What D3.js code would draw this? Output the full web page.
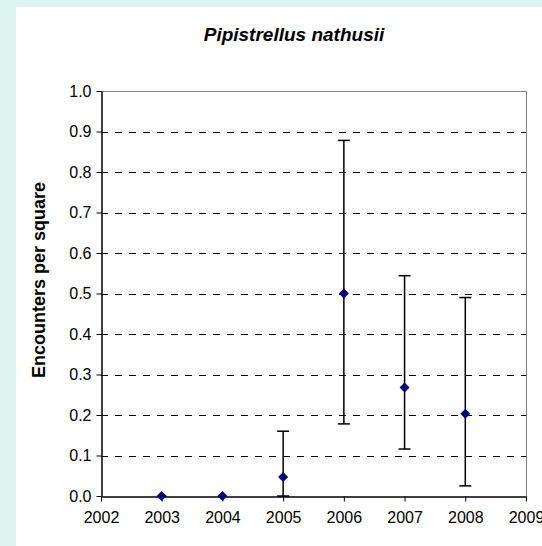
<!DOCTYPE html>
<html>
<head>
<meta charset="utf-8">
<script src="https://cdn.jsdelivr.net/npm/d3@7"></script>
<style>
  html, body { margin: 0; padding: 0; background: #dcf5f1; }
  svg { display: block; }
  text { font-family: "Liberation Sans", Arial, sans-serif; }
</style>
</head>
<body>
<svg id="chart" width="542" height="546"></svg>
<script>
const years = [2003, 2004, 2005, 2006, 2007, 2008];
const means = [0, 0, 0.047, 0.500, 0.268, 0.203];
const upper = [0, 0, 0.160, 0.878, 0.544, 0.490];
const lower = [0, 0, 0, 0.178, 0.116, 0.025];
const xTicks = [2002, 2003, 2004, 2005, 2006, 2007, 2008, 2009];
const yTicks = [0, 0.1, 0.2, 0.3, 0.4, 0.5, 0.6, 0.7, 0.8, 0.9, 1.0];
const titleText = "Pipistrellus nathusii";
const yLabel = "Encounters per square";

const svg = d3.select("#chart");
svg.append("rect").attr("x", 0).attr("y", 0).attr("width", 542).attr("height", 546).attr("fill", "#dcf5f1");
svg.append("rect").attr("x", 16).attr("y", 7).attr("width", 526).attr("height", 539).attr("fill", "#ffffff");

const x = d3.scaleLinear().domain([2002, 2009]).range([101, 526]);
const y = d3.scaleLinear().domain([0, 1]).range([496, 91]);

// gridlines
svg.append("g").selectAll("line").data(yTicks.filter(v => v > 0 && v < 1)).join("line")
  .attr("x1", x(2002)).attr("x2", x(2009))
  .attr("y1", d => Math.round(y(d)) + 0.5).attr("y2", d => Math.round(y(d)) + 0.5)
  .attr("stroke", "#000").attr("stroke-width", 1).attr("stroke-dasharray", "7,7");

// top and right border
svg.append("path")
  .attr("d", `M${x(2002)},${Math.round(y(1)) + 0.5}H${Math.round(x(2009)) + 0.5}V${y(0)}`)
  .attr("fill", "none").attr("stroke", "#808080").attr("stroke-width", 1);

// y axis
const yAxis = svg.append("g").attr("transform", `translate(${Math.round(x(2002)) + 0.5},0)`)
  .call(d3.axisLeft(y).tickValues(yTicks).tickFormat(d3.format(".1f")).tickSize(5).tickSizeOuter(0).tickPadding(5));
// x axis
const xAxis = svg.append("g").attr("transform", `translate(0,${Math.round(y(0)) + 0.5})`)
  .call(d3.axisBottom(x).tickValues(xTicks).tickFormat(d3.format("d")).tickSize(5).tickSizeOuter(0).tickPadding(10));
[yAxis, xAxis].forEach(a => {
  a.select(".domain").attr("stroke", "#000").attr("stroke-width", 1.5);
  a.selectAll(".tick line").attr("stroke", "#000");
  a.selectAll(".tick text").attr("fill", "#000").style("font-size", "16px").style("font-family", "'Liberation Sans', Arial, sans-serif");
});

// error bars
const data = years.map((yr, i) => ({yr, m: means[i], u: upper[i], l: lower[i]}));
const eb = svg.append("g").selectAll("g").data(data.filter(d => d.u > d.l)).join("g");
eb.append("line").attr("x1", d => x(d.yr)).attr("x2", d => x(d.yr))
  .attr("y1", d => y(d.u)).attr("y2", d => y(d.l)).attr("stroke", "#000").attr("stroke-width", 1.5);
eb.append("line").attr("x1", d => x(d.yr) - 6).attr("x2", d => x(d.yr) + 6)
  .attr("y1", d => y(d.u)).attr("y2", d => y(d.u)).attr("stroke", "#000").attr("stroke-width", 1.5);
eb.append("line").attr("x1", d => x(d.yr) - 6).attr("x2", d => x(d.yr) + 6)
  .attr("y1", d => y(d.l)).attr("y2", d => y(d.l)).attr("stroke", "#000").attr("stroke-width", 1.5);

// markers
svg.append("g").selectAll("path").data(data).join("path")
  .attr("transform", d => `translate(${x(d.yr)},${y(d.m)})`)
  .attr("d", "M0,-5L5,0L0,5L-5,0Z")
  .attr("fill", "#000080");

// title
svg.append("text").attr("x", 294).attr("y", 41).attr("text-anchor", "middle")
  .style("font-size", "19px").style("font-weight", "bold").style("font-style", "italic")
  .text(titleText);

// y label
svg.append("text").attr("transform", `translate(45,280) rotate(-90)`).attr("text-anchor", "middle")
  .style("font-size", "18px").style("font-weight", "bold")
  .text(yLabel);
</script>
</body>
</html>
